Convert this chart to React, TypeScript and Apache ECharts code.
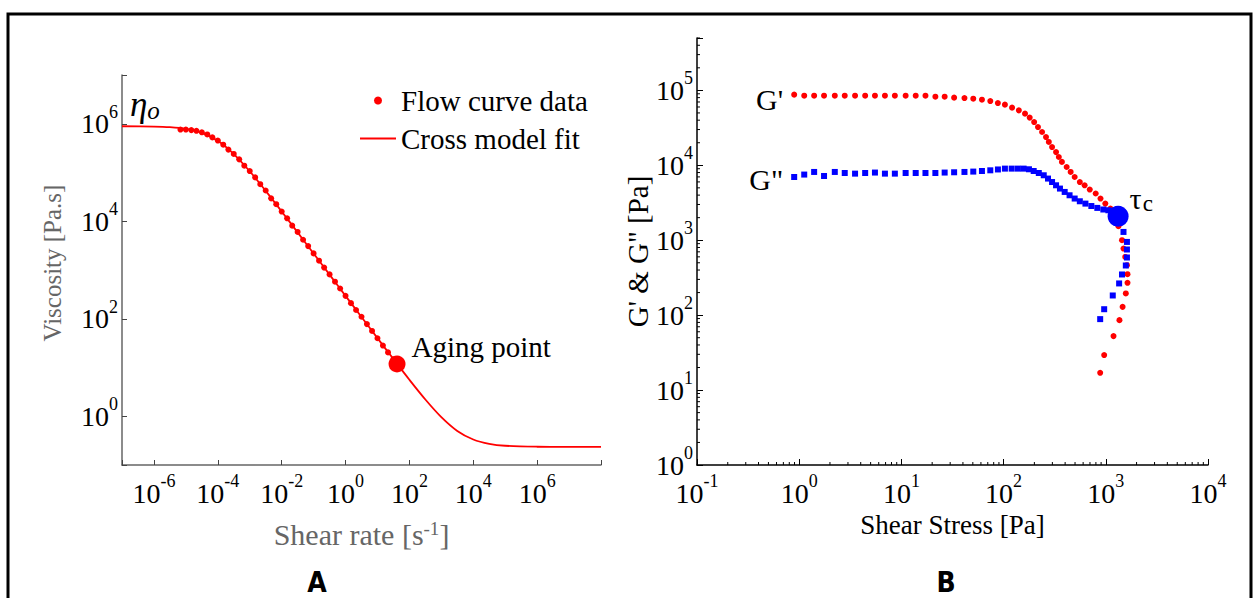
import React, { useEffect, useRef } from 'react';
import * as echarts from 'echarts';

// ---------- Panel A: flow curve ----------
const flowShearRate = [6.76e-6, 1e-5, 1.48e-5, 2.14e-5, 3.16e-5, 4.68e-5, 6.76e-5, 1e-4, 1.48e-4, 2.14e-4, 3.16e-4, 4.68e-4, 6.76e-4, 1e-3, 1.48e-3, 2.14e-3, 3.16e-3, 4.68e-3, 6.76e-3, 0.01, 0.0148, 0.0214, 0.0316, 0.0468, 0.0676, 0.1, 0.148, 0.214, 0.316, 0.468, 0.676, 1, 1.48, 2.14, 3.16, 4.68, 6.76, 10, 14.8, 21.4, 31.6];
const flowViscosity = [759000, 759000, 741000, 716000, 668000, 603000, 525000, 452000, 372000, 295000, 240000, 186000, 138000, 107000, 79400, 57500, 42700, 29500, 22400, 15800, 11500, 8130, 6030, 4170, 3090, 2190, 1550, 1120, 813, 575, 417, 295, 209, 151, 110, 77.6, 56.2, 39.8, 28.2, 20.4, 14.8];

const fitShearRate = [1e-7, 1e-6, 3.16e-6, 1e-5, 3.16e-5, 1e-4, 3.16e-4, 1e-3, 3.16e-3, 1e-2, 3.16e-2, 0.1, 0.316, 1, 3.16, 10, 31.6, 100, 316, 1000, 3160, 1e4, 3.16e4, 1e5, 1e6, 1e7, 1e8];
const fitViscosity = [889000, 875000, 849000, 785000, 652000, 446000, 239000, 106000, 42100, 15900, 5920, 2180, 804, 295, 109, 40.1, 14.9, 5.61, 2.21, 0.96, 0.5, 0.333, 0.271, 0.248, 0.237, 0.235, 0.235];

const agingPoint = [41, 11.8];

// ---------- Panel B: amplitude sweep ----------
const gPrimeStress = [0.893, 1.12, 1.4, 1.75, 2.23, 2.79, 3.52, 4.42, 5.51, 6.9, 8.63, 11.0, 13.8, 17.2, 21.5, 26.5, 32.8, 41.4, 50.5, 61.4, 74.1, 87.9, 103, 121, 141, 162, 180, 199, 217, 238, 260, 277, 298, 326, 347, 372, 414, 453, 496, 557, 621, 697, 796, 887, 989, 1110, 1220, 1330, 1440, 1490, 1550, 1610, 1630, 1630, 1570, 1460, 1360, 1190, 964, 881];
const gPrimeModulus = [87700, 85000, 85000, 85000, 85000, 85000, 85000, 85000, 85000, 85000, 85000, 85000, 85000, 85000, 82400, 82400, 80000, 78900, 77400, 75100, 72000, 67700, 64500, 58800, 54100, 48900, 43300, 37800, 32400, 27800, 23800, 20500, 17500, 15000, 12900, 11100, 9490, 8150, 6980, 5980, 5410, 4740, 4200, 3600, 3080, 2650, 2220, 1540, 1000, 774, 598, 464, 352, 270, 195, 129, 85.8, 52.5, 29.3, 17.0];

const gDoubleStress = [0.893, 1.12, 1.4, 1.75, 2.23, 2.79, 3.52, 4.42, 5.51, 6.9, 8.63, 11.0, 13.8, 17.2, 21.5, 26.5, 32.8, 41.4, 50.5, 61.4, 74.1, 88.0, 103, 120, 138, 157, 177, 197, 221, 247, 272, 298, 326, 356, 396, 442, 496, 557, 632, 722, 826, 946, 1060, 1180, 1490, 1610, 1610, 1610, 1570, 1440, 1350, 1170, 964, 881];
const gDoubleModulus = [6980, 7520, 8150, 7200, 8150, 7890, 7740, 7890, 8000, 7740, 7740, 7890, 7890, 7890, 7890, 8000, 8070, 8150, 8240, 8390, 8570, 8800, 9030, 9030, 9030, 9030, 8850, 8390, 7890, 7360, 6650, 5980, 5410, 4890, 4410, 3980, 3600, 3310, 3080, 2860, 2700, 2570, 2510, 2460, 1290, 949, 752, 588, 460, 349, 265, 183, 120, 88.5];

const tauC = [1320, 2090];

// ---------- Tick labels (exponents of 10) ----------
const leftXExponents = [-6, -4, -2, 0, 2, 4, 6];
const leftYExponents = [0, 2, 4, 6];
const rightXExponents = [-1, 0, 1, 2, 3, 4];
const rightYExponents = [0, 1, 2, 3, 4, 5];
const rightXDecades = [0.1, 1, 10, 100, 1000];
const rightYDecades = [1, 10, 100, 1000, 10000, 100000];
const minorMultipliers = [2, 3, 4, 5, 6, 7, 8, 9];

const SERIF = '"Liberation Serif", "Times New Roman", serif';

const zip = (a: number[], b: number[]) => a.map((v, i) => [v, b[i]]);

const powLabel = (allowed: number[]) => (v: number) => {
  const l = Math.log10(v);
  const e = Math.round(l);
  if (Math.abs(l - e) > 1e-6 || allowed.indexOf(e) < 0) return '';
  return `{m|10}{s|${e}}`;
};

const tickRich = {
  m: { fontSize: 28, fontFamily: SERIF, color: '#000', lineHeight: 42 },
  s: { fontSize: 18, fontFamily: SERIF, color: '#000', verticalAlign: 'top', lineHeight: 18 },
};

export default function App() {
  const ref = useRef<HTMLDivElement>(null);
  useEffect(() => {
    if (!ref.current) return;
    const chart = echarts.init(ref.current, undefined, { renderer: 'svg' });

    const xMinor: number[][] = [];
    rightXDecades.forEach((d) => minorMultipliers.forEach((m) => xMinor.push([d * m, 1])));
    const yMinor: number[][] = [];
    rightYDecades.forEach((d) =>
      minorMultipliers.forEach((m) => {
        if (d * m <= 5e5) yMinor.push([0.1, d * m]);
      })
    );

    const option: any = {
      animation: false,
      backgroundColor: '#fff',
      grid: [
        { left: 122, top: 75, width: 479, height: 390 },
        { left: 697, top: 38, width: 511, height: 427 },
      ],
      legend: {
        data: [
          { name: 'Flow curve data', icon: 'circle' },
          { name: 'Cross model fit', icon: 'path://M0 0H36V1.8H0Z' },
        ],
        symbolKeepAspect: true,
        orient: 'vertical',
        left: 355,
        top: 81,
        itemWidth: 36,
        itemHeight: 8,
        itemGap: 9,
        textStyle: { fontFamily: SERIF, fontSize: 29, color: '#000' },
      },
      xAxis: [
        {
          gridIndex: 0,
          type: 'log',
          logBase: 100,
          min: 1e-7,
          max: 1e8,
          splitNumber: 8,
          axisLine: { lineStyle: { color: '#666', width: 1.5 } },
          axisTick: { inside: true, length: 5, lineStyle: { color: '#444' } },
          axisLabel: { formatter: powLabel(leftXExponents), rich: tickRich, margin: 7 },
          splitLine: { show: false },
          name: 'Shear rate [s{sup|-1}]',
          nameLocation: 'middle',
          nameGap: 54,
          nameTextStyle: {
            fontFamily: SERIF,
            fontSize: 30,
            color: '#666',
            rich: { sup: { fontFamily: SERIF, fontSize: 19, color: '#666', verticalAlign: 'top' } },
          },
        },
        {
          gridIndex: 1,
          type: 'log',
          min: 0.1,
          max: 1e4,
          splitNumber: 6,
          axisLine: { lineStyle: { color: '#000', width: 1.5 } },
          axisTick: { inside: true, length: 6, lineStyle: { color: '#000' } },
          axisLabel: { formatter: powLabel(rightXExponents), rich: tickRich, margin: 7 },
          splitLine: { show: false },
          name: 'Shear Stress [Pa]',
          nameLocation: 'middle',
          nameGap: 40,
          nameTextStyle: { fontFamily: SERIF, fontSize: 27, color: '#000' },
        },
      ],
      yAxis: [
        {
          gridIndex: 0,
          type: 'log',
          logBase: 100,
          min: 0.1,
          max: 1e7,
          splitNumber: 5,
          axisLine: { lineStyle: { color: '#666', width: 1.5 } },
          axisTick: { inside: true, length: 5, lineStyle: { color: '#444' } },
          axisLabel: { formatter: powLabel(leftYExponents), rich: tickRich, margin: 4 },
          splitLine: { show: false },
          name: 'Viscosity [Pa.s]',
          nameLocation: 'middle',
          nameGap: 57,
          nameTextStyle: { fontFamily: SERIF, fontSize: 25, color: '#666', padding: [0, 0, 0, 14] },
        },
        {
          gridIndex: 1,
          type: 'log',
          min: 1,
          max: 5e5,
          splitNumber: 6,
          axisLine: { lineStyle: { color: '#000', width: 1.5 } },
          axisTick: { inside: true, length: 6, lineStyle: { color: '#000' } },
          axisLabel: { formatter: powLabel(rightYExponents), rich: tickRich, margin: 4 },
          splitLine: { show: false },
          name: 'G\' & G" [Pa]',
          nameLocation: 'middle',
          nameGap: 43,
          nameTextStyle: { fontFamily: SERIF, fontSize: 29, color: '#000' },
        },
      ],
      series: [
        {
          name: 'Cross model fit',
          type: 'line',
          xAxisIndex: 0,
          yAxisIndex: 0,
          data: zip(fitShearRate, fitViscosity),
          symbol: 'none',
          smooth: 0.3,
          lineStyle: { color: '#ff0000', width: 1.8 },
          itemStyle: { color: '#ff0000' },
          z: 2,
        },
        {
          name: 'Flow curve data',
          type: 'scatter',
          xAxisIndex: 0,
          yAxisIndex: 0,
          data: zip(flowShearRate, flowViscosity),
          symbol: 'circle',
          symbolSize: 6,
          itemStyle: { color: '#ff0000', opacity: 1 },
          z: 3,
        },
        {
          name: 'Aging point',
          type: 'scatter',
          xAxisIndex: 0,
          yAxisIndex: 0,
          data: [agingPoint],
          symbolSize: 17,
          itemStyle: { color: '#ff0000', opacity: 1 },
          label: {
            show: true,
            position: 'right',
            distance: 6,
            offset: [0, -17],
            formatter: 'Aging point',
            fontFamily: SERIF,
            fontSize: 29,
            color: '#000',
          },
          z: 4,
        },
        {
          name: "G'",
          type: 'scatter',
          xAxisIndex: 1,
          yAxisIndex: 1,
          data: zip(gPrimeStress, gPrimeModulus).map((d, i) =>
            i === 0
              ? {
                  value: d,
                  label: {
                    show: true,
                    position: 'left',
                    distance: 8,
                    offset: [0, 5],
                    formatter: "G'",
                    fontFamily: SERIF,
                    fontSize: 30,
                    color: '#000',
                  },
                }
              : d
          ),
          symbol: 'circle',
          symbolSize: 6,
          itemStyle: { color: '#ff0000', opacity: 1 },
          z: 3,
        },
        {
          name: 'G"',
          type: 'scatter',
          xAxisIndex: 1,
          yAxisIndex: 1,
          data: zip(gDoubleStress, gDoubleModulus).map((d, i) =>
            i === 0
              ? {
                  value: d,
                  label: {
                    show: true,
                    position: 'left',
                    distance: 8,
                    offset: [0, 3],
                    formatter: 'G"',
                    fontFamily: SERIF,
                    fontSize: 30,
                    color: '#000',
                  },
                }
              : d
          ),
          symbol: 'rect',
          symbolSize: 6,
          itemStyle: { color: '#0000ff', opacity: 1 },
          z: 4,
        },
        {
          name: 'tau_c',
          type: 'scatter',
          xAxisIndex: 1,
          yAxisIndex: 1,
          data: [tauC],
          symbolSize: 21,
          itemStyle: { color: '#0000ff', opacity: 1 },
          label: {
            show: true,
            position: 'right',
            distance: 1,
            offset: [0, -18],
            formatter: '{t|τ}{c|c}',
            rich: {
              t: { fontFamily: SERIF, fontSize: 30, color: '#000' },
              c: { fontFamily: SERIF, fontSize: 23, color: '#000', verticalAlign: 'bottom', padding: [10, 0, 0, 1] },
            },
          },
          z: 5,
        },
        {
          name: 'xMinorTicks',
          type: 'custom',
          xAxisIndex: 1,
          yAxisIndex: 1,
          data: xMinor,
          silent: true,
          renderItem: (params: any, api: any) => {
            const p = api.coord([api.value(0), api.value(1)]);
            return {
              type: 'line',
              shape: { x1: p[0], y1: p[1], x2: p[0], y2: p[1] - 3 },
              style: { stroke: '#000', lineWidth: 1 },
            };
          },
          z: 1,
        },
        {
          name: 'yMinorTicks',
          type: 'custom',
          xAxisIndex: 1,
          yAxisIndex: 1,
          data: yMinor,
          silent: true,
          renderItem: (params: any, api: any) => {
            const p = api.coord([api.value(0), api.value(1)]);
            return {
              type: 'line',
              shape: { x1: p[0], y1: p[1], x2: p[0] + 3, y2: p[1] },
              style: { stroke: '#000', lineWidth: 1 },
            };
          },
          z: 1,
        },
      ],
      graphic: [
        {
          type: 'rect',
          shape: { x: 8, y: 14, width: 1243, height: 700 },
          style: { fill: 'none', stroke: '#000', lineWidth: 3 },
          silent: true,
        },
        {
          type: 'text',
          x: 130,
          y: 86,
          style: {
            text: '{e|η}{o|o}',
            rich: {
              e: { fontFamily: SERIF, fontStyle: 'italic', fontSize: 35, color: '#000' },
              o: { fontFamily: SERIF, fontStyle: 'italic', fontSize: 25, color: '#000', verticalAlign: 'bottom', padding: [12, 0, 0, 0] },
            },
          },
        },
        {
          type: 'text',
          x: 317,
          y: 582,
          style: {
            text: 'A',
            fontFamily: '"DejaVu Sans Condensed", "Liberation Sans Narrow", sans-serif',
            fontWeight: 'bold',
            fontSize: 28,
            fill: '#000',
            align: 'center',
            verticalAlign: 'middle',
          },
        },
        {
          type: 'text',
          x: 946,
          y: 582,
          style: {
            text: 'B',
            fontFamily: '"DejaVu Sans Condensed", "Liberation Sans Narrow", sans-serif',
            fontWeight: 'bold',
            fontSize: 28,
            fill: '#000',
            align: 'center',
            verticalAlign: 'middle',
          },
        },
      ],
    };
    chart.setOption(option);
    return () => chart.dispose();
  }, []);
  return (
    <div
      ref={ref}
      style={{ position: 'absolute', left: 0, top: 0, width: 1255, height: 598 }}
    />
  );
}
